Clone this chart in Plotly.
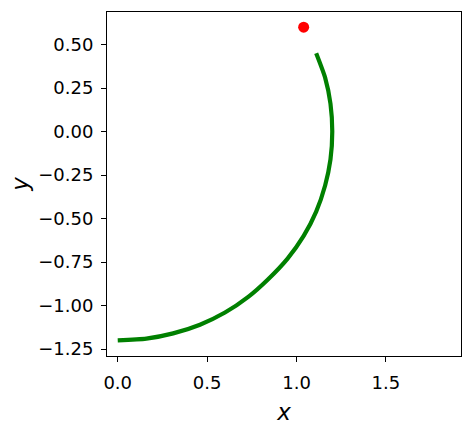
import plotly.graph_objects as go

# Curve points
curve_x = [0.00, 0.16, 0.31, 0.46, 0.60, 0.73, 0.84, 0.95, 1.04, 1.11, 1.16, 1.19, 1.20, 1.19, 1.16, 1.11]
curve_y = [-1.20, -1.19, -1.16, -1.11, -1.04, -0.95, -0.85, -0.73, -0.60, -0.46, -0.31, -0.16, 0.00, 0.16, 0.31, 0.45]

# Red point
point_x = [1.04]
point_y = [0.60]

# Tick labels
x_tickvals = [0.0, 0.5, 1.0, 1.5]
x_ticktext = ["0.0", "0.5", "1.0", "1.5"]
y_tickvals = [0.50, 0.25, 0.00, -0.25, -0.50, -0.75, -1.00, -1.25]
y_ticktext = ["0.50", "0.25", "0.00", "\u22120.25", "\u22120.50", "\u22120.75", "\u22121.00", "\u22121.25"]

fig = go.Figure()
fig.add_trace(go.Scatter(x=curve_x, y=curve_y, mode="lines",
                         line=dict(color="#008000", width=4.2, shape="spline", smoothing=0.6),
                         showlegend=False))
fig.add_trace(go.Scatter(x=point_x, y=point_y, mode="markers",
                         marker=dict(color="#ff0000", size=11), showlegend=False))

axis_common = dict(showgrid=False, zeroline=False, showline=True, linecolor="black",
                   linewidth=1.1, mirror=True, ticks="outside", ticklen=5,
                   tickcolor="black", tickwidth=1.1,
                   tickfont=dict(family="DejaVu Sans", size=18, color="black"))

fig.update_xaxes(range=[-0.06, 1.92], tickvals=x_tickvals, ticktext=x_ticktext,
                 ticklabelstandoff=5,
                 title=dict(text="<i>x</i>", font=dict(family="DejaVu Sans", size=23, color="black"),
                            standoff=12),
                 **axis_common)
fig.update_yaxes(range=[-1.29, 0.687], tickvals=y_tickvals, ticktext=y_ticktext,
                 ticklabelstandoff=4,
                 title=dict(text="<i>y</i>", font=dict(family="DejaVu Sans", size=23, color="black"),
                            standoff=3),
                 **axis_common)

fig.update_layout(width=472, height=436,
                  margin=dict(l=107, r=11, t=12, b=80),
                  plot_bgcolor="white", paper_bgcolor="white")

fig.write_html("out.html", config={"displayModeBar": False},
               post_script="document.body.style.margin='0';document.body.style.overflow='hidden';")
